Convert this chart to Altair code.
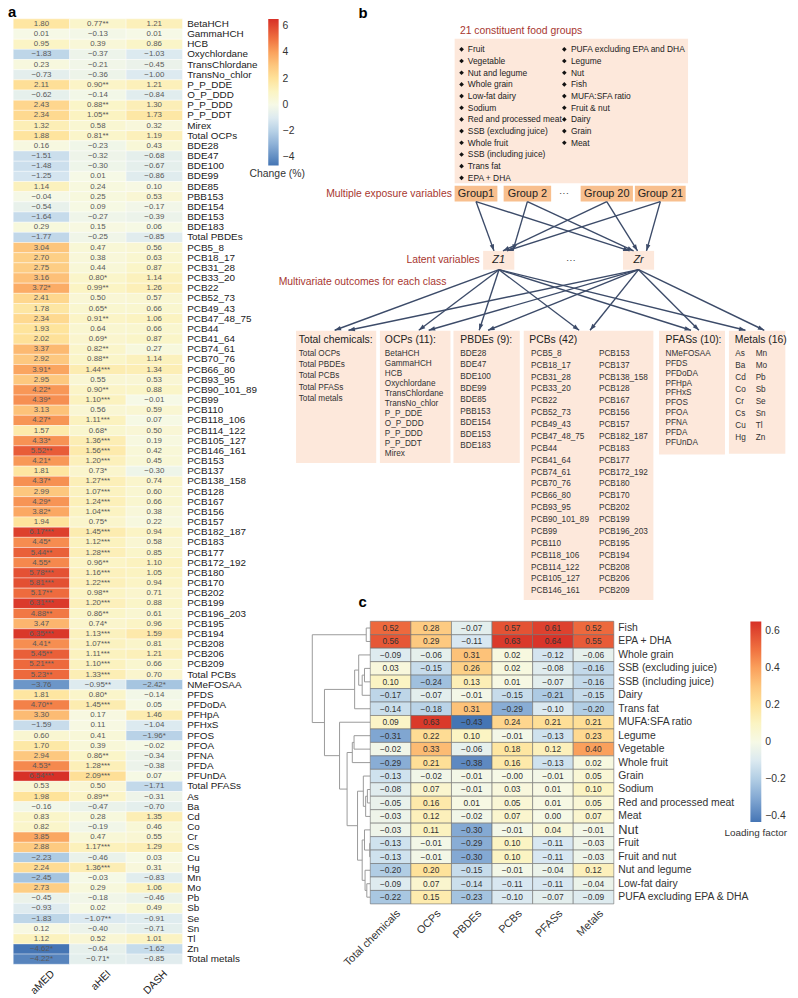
import math
import altair as alt
import pandas as pd

W, H = 790, 990
FONT = "Liberation Sans"
DARKRED = "#a8372f"
PEACH = "#fde8db"
ORANGE = "#f8bf8e"
ARROW = "#3c4b69"

# ---------------- panel a data ----------------
chemicals = [
    "BetaHCH", "GammaHCH", "HCB", "Oxychlordane", "TransChlordane", "TransNo_chlor", "P_P_DDE",
    "O_P_DDD", "P_P_DDD", "P_P_DDT", "Mirex", "Total OCPs",
    "BDE28", "BDE47", "BDE100", "BDE99", "BDE85", "PBB153", "BDE154", "BDE153", "BDE183", "Total PBDEs",
    "PCB5_8", "PCB18_17", "PCB31_28", "PCB33_20", "PCB22", "PCB52_73", "PCB49_43", "PCB47_48_75",
    "PCB44", "PCB41_64", "PCB74_61", "PCB70_76", "PCB66_80", "PCB93_95", "PCB90_101_89", "PCB99",
    "PCB110", "PCB118_106", "PCB114_122", "PCB105_127", "PCB146_161", "PCB153", "PCB137",
    "PCB138_158", "PCB128", "PCB167", "PCB156", "PCB157", "PCB182_187", "PCB183", "PCB177",
    "PCB172_192", "PCB180", "PCB170", "PCB202", "PCB199", "PCB196_203", "PCB195", "PCB194",
    "PCB208", "PCB206", "PCB209", "Total PCBs",
    "NMeFOSAA", "PFDS", "PFDoDA", "PFHpA", "PFHxS", "PFOS", "PFOA", "PFNA", "PFDA", "PFUnDA", "Total PFASs",
    "As", "Ba", "Cd", "Co", "Cr", "Cs", "Cu", "Hg", "Mn", "Mo", "Pb", "Sb", "Se", "Sn", "Tl", "Zn", "Total metals",
]
amed = [
    "1.80", "0.01", "0.95", "-1.83", "0.23", "-0.73", "2.11", "-0.62", "2.43", "2.34", "1.32", "1.88",
    "0.16", "-1.51", "-1.48", "-1.25", "1.14", "-0.04", "-0.54", "-1.64", "0.29", "-1.77",
    "3.04", "2.70", "2.75", "3.16", "3.72*", "2.41", "1.78", "2.34", "1.93", "2.02", "3.37", "2.92",
    "3.91*", "2.95", "4.22*", "4.39*", "3.13", "4.27*", "1.57", "4.33*", "5.52**", "4.21*", "1.81",
    "4.37*", "2.99", "4.29*", "3.82*", "1.94", "6.17***", "4.45*", "5.44**", "4.55*", "5.78***",
    "5.81***", "5.17**", "6.31***", "4.88**", "3.47", "6.35***", "4.41*", "5.45**", "5.21***", "5.23**",
    "-3.76", "1.81", "4.70**", "3.30", "-1.59", "0.60", "1.70", "2.94", "4.53*", "6.54***", "0.53",
    "1.98", "-0.16", "0.83", "0.82", "3.85", "2.88", "-2.23", "2.24", "-2.45", "2.73", "-0.45", "-0.93",
    "-1.83", "0.12", "1.12", "-4.62*", "-4.22*",
]
ahei = [
    "0.77**", "-0.13", "0.39", "-0.37", "-0.21", "-0.36", "0.90**", "-0.14", "0.88**", "1.05**", "0.58", "0.81**",
    "-0.23", "-0.32", "-0.30", "0.01", "0.24", "0.25", "0.09", "-0.27", "0.15", "-0.25",
    "0.47", "0.38", "0.44", "0.80*", "0.99**", "0.50", "0.65*", "0.91**", "0.64", "0.69*", "0.82**",
    "0.88**", "1.44***", "0.55", "0.90**", "1.10***", "0.56", "1.11***", "0.68*", "1.36***", "1.56***",
    "1.20***", "0.73*", "1.27***", "1.07***", "1.24***", "1.04***", "0.75*", "1.45***", "1.12***",
    "1.28***", "0.96**", "1.16***", "1.22***", "0.98**", "1.20***", "0.86**", "0.74*", "1.13***",
    "1.07***", "1.11***", "1.10***", "1.33***",
    "-0.95**", "0.80*", "1.45***", "0.17", "0.11", "0.41", "0.39", "0.86**", "1.28***", "2.09***", "0.50",
    "0.89**", "-0.47", "0.28", "-0.19", "0.47", "1.17***", "-0.46", "1.36***", "-0.03", "0.29", "-0.18",
    "0.02", "-1.07**", "-0.40", "0.52", "-0.64", "-0.71*",
]
dash = [
    "1.21", "0.01", "0.86", "-1.03", "-0.45", "-1.00", "1.21", "-0.84", "1.30", "1.73", "0.32", "1.19",
    "0.43", "-0.68", "-0.67", "-0.86", "0.10", "0.53", "-0.17", "-0.39", "0.06", "-0.85",
    "0.56", "0.63", "0.87", "1.14", "1.26", "0.57", "0.66", "1.06", "0.66", "0.87", "0.27", "1.14",
    "1.34", "0.53", "0.88", "-0.01", "0.59", "0.07", "0.50", "0.19", "0.42", "0.45", "-0.30", "0.74",
    "0.60", "0.66", "0.38", "0.22", "0.94", "0.58", "0.85", "1.10", "1.05", "0.94", "0.71", "0.88",
    "0.61", "0.96", "1.59", "0.81", "1.21", "0.66", "0.70",
    "-2.42*", "-0.14", "0.05", "1.46", "-1.04", "-1.96*", "-0.02", "-0.34", "-0.38", "0.07", "-1.71",
    "-0.31", "-0.70", "1.35", "0.46", "0.55", "1.29", "0.03", "0.31", "-0.83", "1.06", "-0.46", "0.49",
    "-0.91", "-0.71", "1.01", "-1.62", "-0.85",
]
diets = ["aMED", "aHEI", "DASH"]
assert len(chemicals) == 93 and len(amed) == 93 and len(ahei) == 93 and len(dash) == 93

# ---------------- panel c data ----------------
classes_c = ["Total chemicals", "OCPs", "PBDEs", "PCBs", "PFASs", "Metals"]
foods_c = [
    "Fish", "EPA + DHA", "Whole grain", "SSB (excluding juice)", "SSB (including juice)", "Dairy",
    "Trans fat", "MUFA:SFA ratio", "Legume", "Vegetable", "Whole fruit", "Grain", "Sodium",
    "Red and processed meat", "Meat", "Nut", "Fruit", "Fruit and nut", "Nut and legume",
    "Low-fat dairy", "PUFA excluding EPA & DHA",
]
load_total = [0.52, 0.56, -0.09, 0.03, 0.10, -0.17, -0.14, 0.09, -0.31, -0.02, -0.29, -0.13, -0.08, -0.05, -0.03, -0.03, -0.13, -0.13, -0.20, -0.09, -0.22]
load_ocp = [0.28, 0.29, -0.06, -0.15, -0.24, -0.07, -0.18, 0.63, 0.22, 0.33, 0.21, -0.02, 0.07, 0.16, 0.12, 0.11, -0.01, -0.01, 0.20, 0.07, 0.15]
load_pbde = [-0.07, -0.11, 0.31, 0.26, 0.13, -0.01, 0.31, -0.43, 0.10, -0.06, -0.38, -0.01, -0.01, 0.01, -0.02, -0.30, -0.29, -0.30, -0.15, -0.14, -0.23]
load_pcb = [0.57, 0.63, 0.02, 0.02, 0.01, -0.15, -0.29, 0.24, -0.01, 0.18, 0.16, -0.0, 0.03, 0.05, 0.07, -0.01, 0.10, 0.10, -0.01, -0.11, -0.10]
load_pfas = [0.61, 0.64, -0.12, -0.08, -0.07, -0.21, -0.10, 0.21, -0.13, 0.12, -0.13, -0.01, 0.01, 0.01, 0.00, 0.04, -0.11, -0.11, -0.04, -0.11, -0.07]
load_metal = [0.52, 0.55, -0.06, -0.16, -0.16, -0.15, -0.20, 0.21, 0.23, 0.40, 0.02, 0.05, 0.10, 0.05, 0.07, -0.01, -0.03, -0.03, 0.12, -0.04, -0.09]

# dendrogram merges (child, child, merge height; root = 1)
merges = [
    ("Fish", "EPA + DHA", 0.07),
    ("SSB (excluding juice)", "SSB (including juice)", 0.10),
    ("n1", "Dairy", 0.14),
    ("Whole grain", "n2", 0.20),
    ("n3", "Trans fat", 0.27),
    ("Legume", "Vegetable", 0.28),
    ("n5", "Whole fruit", 0.31),
    ("Sodium", "Red and processed meat", 0.05),
    ("n7", "Meat", 0.08),
    ("Grain", "n8", 0.12),
    ("Fruit", "Fruit and nut", 0.01),
    ("Nut", "n10", 0.10),
    ("Low-fat dairy", "PUFA excluding EPA & DHA", 0.06),
    ("Nut and legume", "n12", 0.09),
    ("n11", "n13", 0.14),
    ("n9", "n14", 0.22),
    ("n6", "n15", 0.40),
    ("MUFA:SFA ratio", "n16", 0.53),
    ("n4", "n17", 0.79),
    ("n0", "n18", 1.00),
]

# ---------------- panel b text ----------------
food_left = ["Fruit", "Vegetable", "Nut and legume", "Whole grain", "Low-fat dairy", "Sodium",
             "Red and processed meat", "SSB (excluding juice)", "Whole fruit", "SSB (including juice)",
             "Trans fat", "EPA + DHA"]
food_right = ["PUFA excluding EPA and DHA", "Legume", "Nut", "Fish", "MUFA:SFA ratio", "Fruit & nut",
              "Dairy", "Grain", "Meat"]
groups = ["Group1", "Group 2", "Group 20", "Group 21"]
total_items = ["Total OCPs", "Total PBDEs", "Total PCBs", "Total PFASs", "Total metals"]


def pretty(s):
    return s.replace("-", "\u2212")


def color_scale(vmin, vmax):
    neg_f = [1.0, 0.75, 0.5, 0.25]
    neg_c = ["#4575b4", "#7aa1cf", "#abc9e2", "#d9e8f1"]
    pos_f = [0.15, 0.3, 0.46, 0.61, 0.77, 1.0]
    pos_c = ["#fbf4c4", "#fee39b", "#fdc67d", "#faa25d", "#f07140", "#d73027"]
    dom = [vmin * f for f in neg_f] + [0.0] + [vmax * f for f in pos_f]
    rng = neg_c + ["#f6f9e6"] + pos_c
    return alt.Scale(domain=dom, range=rng, interpolate="rgb")


# ================= panel a =================
rows = []
for i, name in enumerate(chemicals):
    for j, col in enumerate([amed, ahei, dash]):
        s = col[i]
        rows.append({"chem": name, "diet": diets[j], "x0": j, "x1": j + 1, "xc": j + 0.5,
                     "y0": i, "y1": i + 1, "yc": i + 0.5,
                     "val": float(s.rstrip("*")), "txt": pretty(s)})
df_a = pd.DataFrame(rows)
vmin_a, vmax_a = df_a["val"].min(), df_a["val"].max()
px_a = (184.3 - 13.3) / 3
py_a = (969.0 - 13.9) / 93
sx_a = alt.Scale(domain=[0, 3], range=[13.3 - 8, 184.3 - 8], nice=False, zero=False)
sy_a = alt.Scale(domain=[0, 93], range=[13.9 - 8, 969.0 - 8], nice=False, zero=False)

cells_a = alt.Chart(df_a).mark_rect(stroke="white", strokeWidth=0.4).encode(
    x=alt.X("x0:Q", scale=sx_a, axis=None), x2="x1:Q",
    y=alt.Y("y0:Q", scale=sy_a, axis=None), y2="y1:Q",
    color=alt.Color("val:Q", scale=color_scale(vmin_a, vmax_a),
                    legend=alt.Legend(orient="none", legendX=270.9 - 8, legendY=14 - 8, direction="vertical",
                                      title=None, gradientLength=148, gradientThickness=10.5,
                                      gradientStrokeWidth=0, values=[-4, -2, 0, 2, 4, 6], format=".0f",
                                      labelFont=FONT, labelFontSize=10.5, labelColor="#333",
                                      labelOffset=4, labelOverlap=False, padding=0)),
)
text_a = alt.Chart(df_a).mark_text(font=FONT, fontSize=8, color="#5a5a5a").encode(
    x=alt.X("xc:Q", scale=sx_a, axis=None), y=alt.Y("yc:Q", scale=sy_a, axis=None), text="txt:N")

df_a_lab = pd.DataFrame({"chem": chemicals, "yc": [i + 0.5 for i in range(93)],
                         "xl": [3 + 4.7 / px_a] * 93})
lab_a = alt.Chart(df_a_lab).mark_text(font=FONT, fontSize=10, color="#222", align="left").encode(
    x=alt.X("xl:Q", scale=sx_a, axis=None), y=alt.Y("yc:Q", scale=sy_a, axis=None), text="chem:N")

df_a_col = pd.DataFrame({"diet": diets, "xl": [j + 0.5 + 8 / px_a for j in range(3)],
                         "yl": [93 + 4.5 / py_a] * 3})
col_a = alt.Chart(df_a_col).mark_text(font=FONT, fontSize=10.5, color="#222", angle=315, align="right",
                                      baseline="top").encode(
    x=alt.X("xl:Q", scale=sx_a, axis=None), y=alt.Y("yl:Q", scale=sy_a, axis=None), text="diet:N")

panel_a = alt.layer(cells_a, text_a, lab_a, col_a)

# ================= panel c =================
cols_c = [load_total, load_ocp, load_pbde, load_pcb, load_pfas, load_metal]
rows = []
for i, f in enumerate(foods_c):
    for j, col in enumerate(cols_c):
        v = col[i]
        rows.append({"food": f, "cls": classes_c[j], "x0": j, "x1": j + 1, "xc": j + 0.5,
                     "y0": i, "y1": i + 1, "yc": i + 0.5, "val": v, "txt": pretty(format(v, ".2f"))})
df_c = pd.DataFrame(rows)
vmin_c, vmax_c = -0.43, 0.65
px_c = (620.0 - 374.0) / 6
py_c = (908.0 - 622.5) / 21
sx_c = alt.Scale(domain=[0, 6], range=[374.0 - 8, 620.0 - 8], nice=False, zero=False)
sy_c = alt.Scale(domain=[0, 21], range=[622.5 - 8, 908.0 - 8], nice=False, zero=False)

cells_c = alt.Chart(df_c).mark_rect(stroke="#6f6f6f", strokeWidth=0.6).encode(
    x=alt.X("x0:Q", scale=sx_c, axis=None), x2="x1:Q",
    y=alt.Y("y0:Q", scale=sy_c, axis=None), y2="y1:Q",
    color=alt.Color("val:Q", scale=color_scale(vmin_c, vmax_c),
                    legend=alt.Legend(orient="none", legendX=758 - 8, legendY=622.7 - 8, direction="vertical",
                                      title=None, gradientLength=202.6, gradientThickness=11,
                                      gradientStrokeWidth=0, values=[-0.4, -0.2, 0, 0.2, 0.4, 0.6],
                                      labelExpr="datum.value == 0 ? '0' : format(datum.value, '.1f')",
                                      labelFont=FONT, labelFontSize=10.5, labelColor="#333",
                                      labelOffset=4, labelOverlap=False, padding=0)),
)
text_c = alt.Chart(df_c).mark_text(font=FONT, fontSize=8.5, color="#333").encode(
    x=alt.X("xc:Q", scale=sx_c, axis=None), y=alt.Y("yc:Q", scale=sy_c, axis=None), text="txt:N")

df_c_lab = pd.DataFrame({"food": foods_c, "yc": [i + 0.5 for i in range(21)],
                         "xl": [6 + 4.5 / px_c] * 21})
lab_c = alt.Chart(df_c_lab).mark_text(font=FONT, color="#333", align="left").encode(
    x=alt.X("xl:Q", scale=sx_c, axis=None), y=alt.Y("yc:Q", scale=sy_c, axis=None), text="food:N",
    size=alt.condition(alt.datum.food == "Nut", alt.value(13), alt.value(10.5)))

df_c_col = pd.DataFrame({"cls": classes_c, "xl": [j + 0.5 + 4 / px_c for j in range(6)],
                         "yl": [21 + 4 / py_c] * 6})
col_c = alt.Chart(df_c_col).mark_text(font=FONT, fontSize=11, color="#333", angle=315, align="right",
                                      baseline="top").encode(
    x=alt.X("xl:Q", scale=sx_c, axis=None), y=alt.Y("yl:Q", scale=sy_c, axis=None), text="cls:N")

# dendrogram segments computed from the merge table
pos = {f: (0.0, i + 0.5) for i, f in enumerate(foods_c)}
segs = []
for k, (a, b, h) in enumerate(merges):
    ha, ya = pos[a]
    hb, yb = pos[b]
    segs.append((h, ya, h, yb))
    segs.append((ha, ya, h, ya))
    segs.append((hb, yb, h, yb))
    pos[f"n{k}"] = (h, (ya + yb) / 2)
unit = (374.0 - 315.4) / px_c
df_dend = pd.DataFrame([{"xa": -s[0] * unit, "ya": s[1], "xb": -s[2] * unit, "yb": s[3]} for s in segs])
dend = alt.Chart(df_dend).mark_rule(color="#9a9a9a", strokeWidth=1).encode(
    x=alt.X("xa:Q", scale=sx_c, axis=None), x2="xb:Q",
    y=alt.Y("ya:Q", scale=sy_c, axis=None), y2="yb:Q")

panel_c = alt.layer(dend, cells_c, text_c, lab_c, col_c)

# ================= panel b (diagram, page pixel frame) =================
sx_d = alt.Scale(domain=[8, 8 + W], range=[0, W], nice=False, zero=False)
sy_d = alt.Scale(domain=[8, 8 + H], range=[0, H], nice=False, zero=False)

boxes = [
    (459.2, 695.0, 34.0, 180.0, PEACH),
    (459.2, 502.4, 182.5, 198.5, ORANGE), (508.7, 556.7, 182.5, 198.5, ORANGE),
    (586.5, 639.3, 182.5, 198.5, ORANGE), (641.3, 692.6, 182.5, 198.5, ORANGE),
    (488.0, 519.5, 248.3, 267.3, PEACH), (629.3, 660.7, 248.3, 267.3, PEACH),
    (299.0, 380.0, 329.0, 462.5, PEACH), (383.7, 455.0, 329.0, 462.5, PEACH),
    (458.0, 525.0, 329.0, 462.5, PEACH), (529.0, 660.0, 329.0, 601.0, PEACH),
    (665.7, 732.3, 329.0, 454.0, PEACH), (736.3, 793.3, 329.0, 453.3, PEACH),
]
df_box = pd.DataFrame(boxes, columns=["x", "x2", "y", "y2", "fill"])
box_layer = alt.Chart(df_box).mark_rect().encode(
    x=alt.X("x:Q", scale=sx_d, axis=None), x2="x2:Q",
    y=alt.Y("y:Q", scale=sy_d, axis=None), y2="y2:Q",
    color=alt.Color("fill:N", scale=None))

# arrows
group_src = [(480.8, 198.5), (532.7, 198.5), (612.9, 198.5), (667.0, 198.5)]
to_z1 = [499.0, 518.0, 508.0, 512.0]
to_zr = [636.0, 640.0, 644.0, 653.0]
z_src = [(504.0, 267.3), (645.0, 267.3)]
out_targets = [(338, 352), (423, 433), (484, 493), (585, 596), (698, 706), (753, 772)]
edges = []
for (gx, gy), a, b in zip(group_src, to_z1, to_zr):
    edges.append((gx, gy, a, 248.3))
    edges.append((gx, gy, b, 248.3))
for t1, t2 in out_targets:
    edges.append((z_src[0][0], z_src[0][1], t1, 328.5))
    edges.append((z_src[1][0], z_src[1][1], t2, 328.5))
df_edge = pd.DataFrame(edges, columns=["xa", "ya", "xb", "yb"])
df_edge["ang"] = [(math.degrees(math.atan2(r.xb - r.xa, -(r.yb - r.ya))) + 360) % 360 for r in df_edge.itertuples()]
edge_layer = alt.Chart(df_edge).mark_rule(color=ARROW, strokeWidth=1.4).encode(
    x=alt.X("xa:Q", scale=sx_d, axis=None), x2="xb:Q",
    y=alt.Y("ya:Q", scale=sy_d, axis=None), y2="yb:Q")
head_layer = alt.Chart(df_edge).mark_point(shape="M0,0L-0.9,2.6L0.9,2.6Z", filled=True, size=25,
                                           color=ARROW, opacity=1, strokeWidth=0).encode(
    x=alt.X("xb:Q", scale=sx_d, axis=None), y=alt.Y("yb:Q", scale=sy_d, axis=None),
    angle=alt.Angle("ang:Q", scale=None))

# texts
left_t = []
center_t = []
right_t = []
bullets = []


def add(lst, x, y, t, size, color="#222"):
    lst.append({"x": x, "y": y, "t": t, "size": size, "color": color})


add(left_t, 464.5, 25.7, "21 constituent food groups", 10.5, DARKRED)
for i, f in enumerate(food_left):
    add(left_t, 472.5, 44.7 + i * 11.8, f, 8.5, "#222")
    bullets.append({"x": 466.2, "y": 44.7 + i * 11.8})
for i, f in enumerate(food_right):
    add(left_t, 576.7, 44.7 + i * 11.8, f, 8.5, "#222")
    bullets.append({"x": 570.0, "y": 44.7 + i * 11.8})
add(left_t, 281.4, 280.0, "Multivariate outcomes for each class", 10.5, DARKRED)

headers = [(301.7, "Total chemicals:"), (388.7, "OCPs (11):"), (465.0, "PBDEs (9):"), (534.6, "PCBs (42)"),
           (672.3, "PFASs (10):"), (742.3, "Metals (16)")]
for x, t in headers:
    add(left_t, x, 338.5, t, 10.5, "#222")

pcbs = chemicals[22:64]
metals = chemicals[76:92]
lists = [
    (301.7, total_items, 11.4),
    (388.7, chemicals[0:11], 10.14),
    (465.0, chemicals[12:21], 11.7),
    (536.4, pcbs[:21], 12.0),
    (605.0, pcbs[21:], 12.0),
    (672.3, chemicals[65:75], 10.0),
    (742.7, metals[:8], 12.1),
    (763.3, metals[8:], 12.1),
]
for x, items, step in lists:
    for i, t in enumerate(items):
        add(left_t, x, 352.3 + i * step, t, 8.3, "#333")

add(right_t, 456.4, 191.0, "Multiple exposure variables", 10.5, DARKRED)
add(right_t, 484.5, 257.3, "Latent variables", 10.5, DARKRED)

for (gx, _), g in zip(group_src, groups):
    add(center_t, gx, 190.8, g, 11, "#222")
add(center_t, 569.7, 190.0, "\u00b7\u00b7\u00b7", 10, "#444")
add(center_t, 576.7, 257.3, "\u00b7\u00b7\u00b7", 10, "#444")
add(center_t, 280.0, 170.7, "Change (%)", 10.5, "#333")
add(center_t, 763.5, 836.0, "Loading factor", 10, "#333")

italic_t = [{"x": 503.7, "y": 258.0, "t": "Z1"}, {"x": 645.0, "y": 258.0, "t": "Zr"}]
letters = [{"x": 8.0, "y": 12.5, "t": "a"}, {"x": 362.0, "y": 12.7, "t": "b"}, {"x": 362.0, "y": 608.3, "t": "c"}]


def text_layer(lst, align):
    return alt.Chart(pd.DataFrame(lst)).mark_text(font=FONT, align=align, baseline="middle").encode(
        x=alt.X("x:Q", scale=sx_d, axis=None), y=alt.Y("y:Q", scale=sy_d, axis=None), text="t:N",
        size=alt.Size("size:Q", scale=None), color=alt.Color("color:N", scale=None))


bullet_layer = alt.Chart(pd.DataFrame(bullets)).mark_point(shape="diamond", filled=True, size=22,
                                                           color="#111", opacity=1).encode(
    x=alt.X("x:Q", scale=sx_d, axis=None), y=alt.Y("y:Q", scale=sy_d, axis=None))
italic_layer = alt.Chart(pd.DataFrame(italic_t)).mark_text(font=FONT, fontSize=11, fontStyle="italic",
                                                           color="#222", baseline="middle").encode(
    x=alt.X("x:Q", scale=sx_d, axis=None), y=alt.Y("y:Q", scale=sy_d, axis=None), text="t:N")
letter_layer = alt.Chart(pd.DataFrame(letters)).mark_text(font=FONT, fontSize=15, fontWeight="bold",
                                                          color="#000", align="left",
                                                          baseline="alphabetic").encode(
    x=alt.X("x:Q", scale=sx_d, axis=None), y=alt.Y("y:Q", scale=sy_d, axis=None), text="t:N")

diagram = alt.layer(box_layer, edge_layer, head_layer, bullet_layer,
                    text_layer(left_t, "left"), text_layer(center_t, "center"), text_layer(right_t, "right"),
                    italic_layer, letter_layer)

chart = alt.layer(panel_a, panel_c, diagram).resolve_scale(
    x="independent", y="independent", color="independent", size="independent"
).properties(
    width=W, height=H, padding=0, autosize=alt.AutoSizeParams(type="none")
).configure_view(stroke=None)

chart.save("out.html", embed_options={"renderer": "svg", "actions": False})
